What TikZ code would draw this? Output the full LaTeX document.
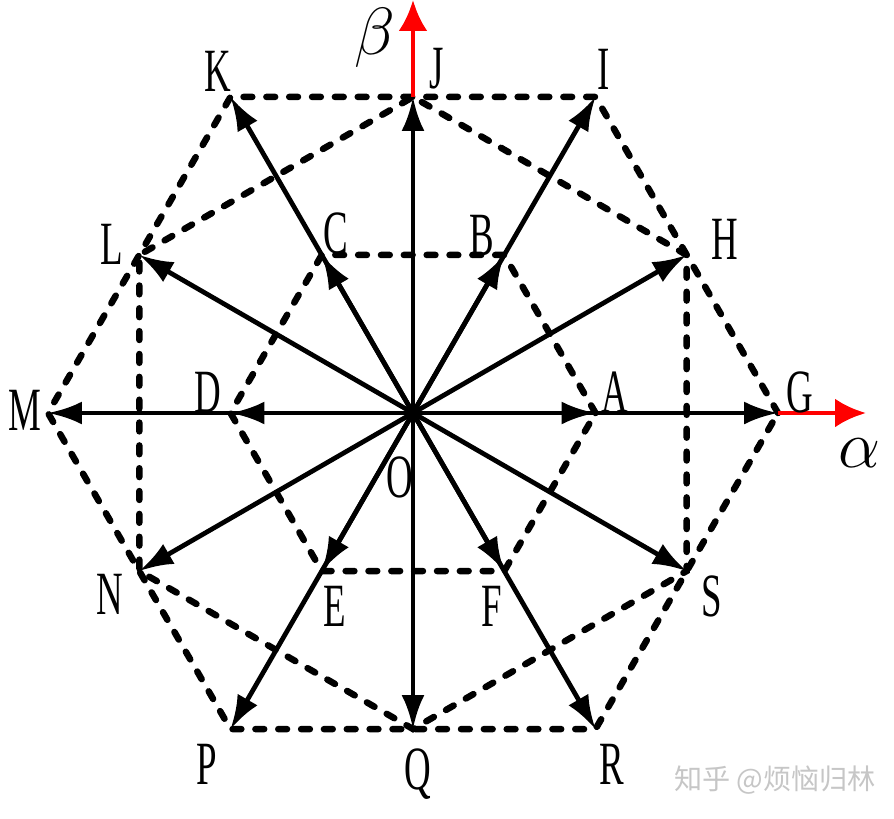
\RequirePackage{fix-cm}
\documentclass[tikz,border=0pt]{standalone}
\usepackage{fontspec}
\setmainfont{Liberation Serif}
\newfontfamily\cjkfont{Noto Sans CJK SC}
\usetikzlibrary{arrows.meta}

\begin{document}
\begin{tikzpicture}[>={Latex[length=0.68cm,width=0.46cm]},
  vec/.style={->,line width=2.7pt},
  gridline/.style={line width=3.7pt,dash pattern=on 5pt off 8pt,line cap=round},
  axis/.style={-{Latex[length=0.62cm,width=0.58cm]},red,line width=2.8pt},
  lbl/.style={font=\fontsize{35}{35}\selectfont,xscale=0.6,transform shape,inner sep=0pt}]
  \useasboundingbox (-8.26,-8.1) rectangle (9.62,8.26);
  \coordinate (O) at (0,0);
  \foreach \n/\a in {A/0,B/60,C/120,D/180,E/240,F/300}
    \coordinate (\n) at (\a:3.65);
  \foreach \n/\a in {G/0,I/60,K/120,M/180,P/240,R/300}
    \coordinate (\n) at (\a:7.3);
  \foreach \n/\a in {H/30,J/90,L/150,N/210,Q/270,S/330}
    \coordinate (\n) at (\a:6.32);
  \coordinate (alpha) at (9.06,0);
  \coordinate (beta) at (0,8.26);

  % dashed hexagons
  \draw[gridline] (A) -- (B) -- (C) -- (D) -- (E) -- (F) -- cycle;
  \draw[gridline] (G) -- (I) -- (K) -- (M) -- (P) -- (R) -- cycle;
  \draw[gridline] (H) -- (J) -- (L) -- (N) -- (Q) -- (S) -- cycle;

  % axes
  \draw[axis] (J) -- (beta);
  \draw[axis] (G) -- (alpha);
  \node[font=\fontsize{38}{38}\selectfont] (tbeta) at (-0.76,7.5) {$\beta$};
  \node[font=\fontsize{38}{38}\selectfont] (talpha) at (8.92,-0.8) {$\alpha$};

  % vectors
  \foreach \n in {A,B,C,D,E,F,G,H,I,J,K,L,M,N,P,Q,R,S}
    \draw[vec] (O) -- (\n);

  % labels
  \foreach \n/\x/\y in {A/4.04/0.42, B/1.38/3.56, C/-1.54/3.6, D/-4.1/0.42,
      E/-1.56/-3.86, F/1.58/-3.86, G/7.74/0.42, H/6.24/3.48, I/3.82/6.88,
      J/0.48/6.88, K/-3.9/6.84, L/-6.02/3.38, M/-7.76/0.06, N/-6.06/-3.62,
      O/-0.26/-1.28, P/-4.12/-7.02, Q/0.1/-7.22, R/3.98/-7.02, S/5.98/-3.66}
    \node[lbl] (t\n) at (\x,\y) {\n};

  \node[text=gray!45,font=\cjkfont\fontsize{16}{16}\selectfont] (mark) at (7.24,-7.34) {知乎 @烦恼归林};
\end{tikzpicture}
\end{document}
